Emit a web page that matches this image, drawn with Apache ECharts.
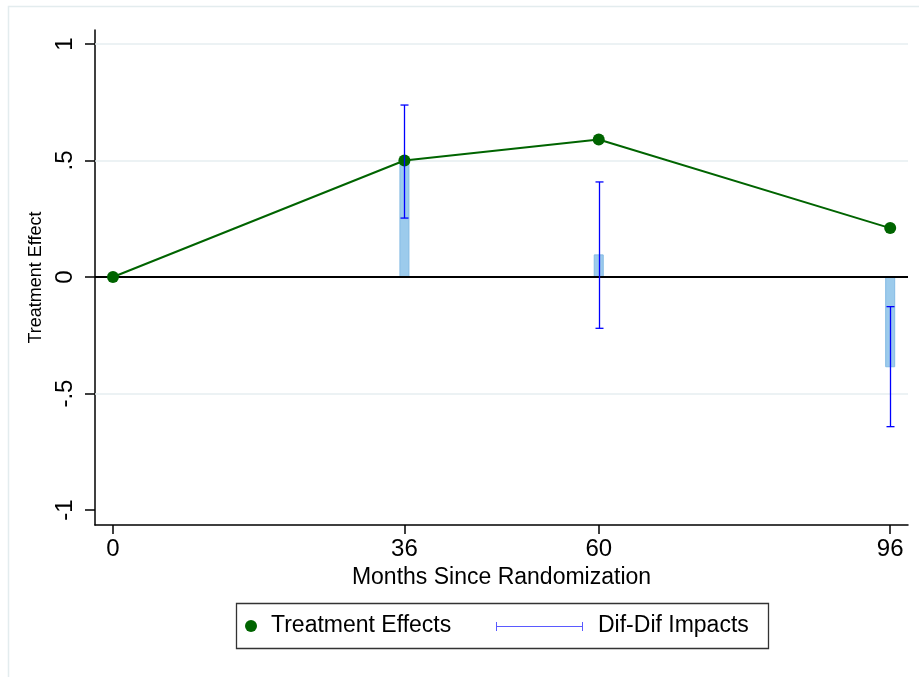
<!DOCTYPE html>
<html>
<head>
<meta charset="utf-8">
<script src="https://cdn.jsdelivr.net/npm/echarts@6/dist/echarts.min.js"></script>
<style>
html, body { margin: 0; padding: 0; background: #fff; }
#main { width: 919px; height: 677px; }
</style>
</head>
<body>
<div id="main"></div>
<script>
// values
const months = [0, 36, 60, 96];
const treatEffects = [0, 0.50, 0.59, 0.21];

const impactMonths = [36, 60, 96];
const difDif = [0.50, 0.095, -0.385];
const ciLow = [0.253, -0.22, -0.642];
const ciHigh = [0.738, 0.408, -0.127];

const xTicks = [0, 36, 60, 96];
const yTicks = [-1, -0.5, 0, 0.5, 1];
const gridValues = [1, 0.5, -0.5];

const FONT = 'Liberation Sans, Arial, Helvetica, sans-serif';
const GREEN = '#006400';
const BLUE = '#0000ff';

function fmtY(v) {
  if (v === 0) return '0';
  let s = String(v);
  return s.replace('0.', '.');
}

var chart = echarts.init(document.getElementById('main'), null, { renderer: 'canvas' });

var option = {
  backgroundColor: '#fff',
  animation: false,
  grid: { left: 95, right: 11, top: 30, bottom: 152, containLabel: false },
  xAxis: {
    type: 'value',
    min: -2.22,
    max: 98.2,
    name: 'Months Since Randomization',
    nameLocation: 'middle',
    nameGap: 40,
    nameTextStyle: { fontFamily: FONT, fontSize: 23, color: '#000' },
    axisLine: { show: true, onZero: false, lineStyle: { color: '#000', width: 1.5 } },
    axisTick: { show: true, length: 9, lineStyle: { color: '#000', width: 1.5 }, customValues: xTicks },
    axisLabel: { customValues: xTicks, fontFamily: FONT, fontSize: 24, color: '#000', margin: 12 },
    splitLine: { show: false }
  },
  yAxis: {
    type: 'value',
    min: -1.064,
    max: 1.06,
    name: 'Treatment Effect',
    nameLocation: 'middle',
    nameGap: 42,
    nameTextStyle: { fontFamily: FONT, fontSize: 18, color: '#000' },
    axisLine: { show: true, onZero: false, lineStyle: { color: '#000', width: 1.5 } },
    axisTick: { show: true, length: 10, lineStyle: { color: '#000', width: 1.5 }, customValues: yTicks },
    axisLabel: { customValues: yTicks, rotate: 90, fontFamily: FONT, fontSize: 24, color: '#000', margin: 18, formatter: fmtY },
    splitLine: { show: false }
  },
  graphic: [
    { type: 'rect', shape: { x: 8.5, y: 6.5, width: 2000, height: 2000 }, style: { fill: 'none', stroke: '#e3ecee', lineWidth: 1.5 }, z: -10 },
    { type: 'rect', shape: { x: 236.5, y: 603.5, width: 532, height: 45 }, style: { fill: '#fff', stroke: '#333', lineWidth: 1.3 } },
    { type: 'circle', shape: { cx: 251, cy: 626, r: 6 }, style: { fill: GREEN } },
    { type: 'text', x: 271, y: 626, style: { text: 'Treatment Effects', font: '23px ' + FONT, fill: '#000', verticalAlign: 'middle' } },
    { type: 'line', shape: { x1: 496, y1: 626.5, x2: 583, y2: 626.5 }, style: { stroke: '#5a5aff', lineWidth: 1 } },
    { type: 'line', shape: { x1: 496.5, y1: 622, x2: 496.5, y2: 631 }, style: { stroke: '#5a5aff', lineWidth: 1 } },
    { type: 'line', shape: { x1: 582.5, y1: 622, x2: 582.5, y2: 631 }, style: { stroke: '#5a5aff', lineWidth: 1 } },
    { type: 'text', x: 598, y: 626, style: { text: 'Dif-Dif Impacts', font: '23px ' + FONT, fill: '#000', verticalAlign: 'middle' } }
  ],
  series: [
    {
      name: 'Dif-Dif bars',
      type: 'custom',
      z: 1,
      data: impactMonths.map((m, i) => [m, difDif[i]]),
      renderItem: function (params, api) {
        var p0 = api.coord([api.value(0), 0]);
        var p1 = api.coord([api.value(0), api.value(1)]);
        var w = 9;
        return {
          type: 'rect',
          shape: { x: p0[0] - w / 2, y: Math.min(p0[1], p1[1]), width: w, height: Math.abs(p1[1] - p0[1]) },
          style: { fill: '#9ccbec', stroke: '#84bbe4', lineWidth: 1 }
        };
      },
      markLine: {
        silent: true,
        symbol: ['none', 'none'],
        label: { show: false },
        animation: false,
        data: gridValues.map(v => ({ yAxis: v, lineStyle: { color: '#e6eef1', width: 1.5, type: 'solid' } }))
          .concat([{ yAxis: 0, lineStyle: { color: '#000', width: 2, type: 'solid' } }])
      }
    },
    {
      name: 'Treatment Effects',
      type: 'line',
      z: 8,
      data: months.map((m, i) => [m, treatEffects[i]]),
      symbol: 'circle',
      symbolSize: 12,
      lineStyle: { color: GREEN, width: 2 },
      itemStyle: { color: GREEN }
    },
    {
      name: 'Dif-Dif Impacts',
      type: 'custom',
      z: 9,
      data: impactMonths.map((m, i) => [m, ciLow[i], ciHigh[i]]),
      renderItem: function (params, api) {
        var lo = api.coord([api.value(0), api.value(1)]);
        var hi = api.coord([api.value(0), api.value(2)]);
        var x = Math.round(lo[0]) + 0.5;
        var c = 4;
        var st = { stroke: BLUE, lineWidth: 1.3 };
        return {
          type: 'group',
          children: [
            { type: 'line', shape: { x1: x, y1: lo[1], x2: x, y2: hi[1] }, style: st },
            { type: 'line', shape: { x1: x - c, y1: lo[1], x2: x + c, y2: lo[1] }, style: st },
            { type: 'line', shape: { x1: x - c, y1: hi[1], x2: x + c, y2: hi[1] }, style: st }
          ]
        };
      }
    }
  ]
};

chart.setOption(option);
window.addEventListener('resize', () => { chart.resize(); });
</script>
</body>
</html>
